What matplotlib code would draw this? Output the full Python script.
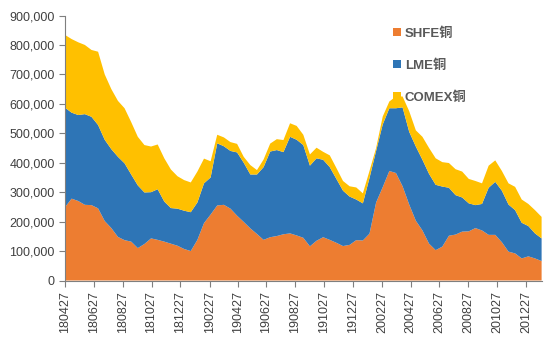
import numpy as np
import pandas as pd
import matplotlib.pyplot as plt
import matplotlib.dates as mdates
from matplotlib.ticker import FuncFormatter

# fortnightly points, 2018-04-27 .. 2021-01-29
dates = pd.date_range("2018-04-27", periods=73, freq="14D")

# stocks in thousand tonnes
shfe = [249, 278, 270, 257, 256, 245, 202, 178, 148, 137,
        132, 110, 124, 143, 138, 132, 125, 118, 107, 100,
        138, 195, 224, 255, 257, 244, 220, 199, 177, 158,
        138, 147, 151, 157, 160, 153, 145, 116, 135, 147,
        138, 128, 117, 121, 137, 136, 159, 265, 317, 372,
        365, 320, 258, 203, 170, 125, 103, 115, 152, 156,
        166, 167, 178, 170, 155, 155, 130, 98, 92, 75,
        82, 75, 66]
lme = [338, 292, 292, 308, 300, 283, 276, 268, 272, 261,
       228, 213, 175, 157, 172, 136, 121, 126, 130, 132,
       127, 135, 126, 211, 199, 196, 215, 201, 183, 202,
       247, 291, 292, 279, 328, 325, 315, 274, 280, 263,
       247, 217, 188, 164, 138, 126, 189, 175, 213, 213,
       220, 268, 247, 252, 240, 237, 222, 204, 163, 134,
       116, 95, 78, 90, 160, 180, 175, 160, 147, 121,
       103, 85, 77]
comex = [247, 250, 247, 235, 227, 249, 222, 204, 190, 187,
         178, 165, 161, 155, 152, 147, 131, 110, 104, 101,
         105, 84, 55, 29, 30, 30, 29, 20, 32, 15,
         26, 27, 37, 41, 46, 47, 35, 38, 36, 27,
         40, 37, 33, 35, 41, 34, 24, 10, 27, 23,
         40, 37, 70, 55, 78, 88, 90, 83, 84, 88,
         88, 83, 82, 70, 75, 73, 67, 72, 79, 79,
         75, 79, 73]

labels = ["SHFE铜", "LME铜", "COMEX铜"]
colors = ["#ED7D31", "#2E75B6", "#FFC000"]

plt.rcParams["font.family"] = ["Liberation Sans", "Noto Sans CJK SC"]

fig = plt.figure(figsize=(5.53, 3.45), dpi=100)
ax = fig.add_axes([65 / 553, 64.5 / 345, (541.6 - 65) / 553, 265 / 345])

ax.stackplot(dates, np.array(shfe) * 1000, np.array(lme) * 1000,
             np.array(comex) * 1000, colors=colors, labels=labels,
             linewidth=0)

ax.set_xlim(dates[0], dates[-1])
ax.set_ylim(0, 900000)
ax.set_yticks(range(0, 900001, 100000))
ax.yaxis.set_major_formatter(FuncFormatter(lambda v, p: f"{v:,.0f}"))
ax.xaxis.set_major_locator(mdates.MonthLocator(bymonth=[2, 4, 6, 8, 10, 12], bymonthday=27))
ax.xaxis.set_major_formatter(mdates.DateFormatter("%y%m%d"))

for s in ["top", "right"]:
    ax.spines[s].set_visible(False)
for s in ["left", "bottom"]:
    ax.spines[s].set_color("#7F7F7F")
    ax.spines[s].set_linewidth(0.8)
ax.tick_params(axis="both", colors="#7F7F7F", length=4, width=0.8,
               labelcolor="#404040", labelsize=9)
ax.tick_params(axis="x", labelrotation=90)

leg = ax.legend(loc="upper left", bbox_to_anchor=(393 / 553, 1 - 27 / 345),
                bbox_transform=fig.transFigure, frameon=False,
                handlelength=0.6, handleheight=0.6, handletextpad=0.3,
                labelspacing=1.5, borderpad=0, borderaxespad=0,
                prop={"size": 9.5, "weight": "bold"})
for t in leg.get_texts():
    t.set_color("#595959")

fig.savefig("out.png", dpi=100)
